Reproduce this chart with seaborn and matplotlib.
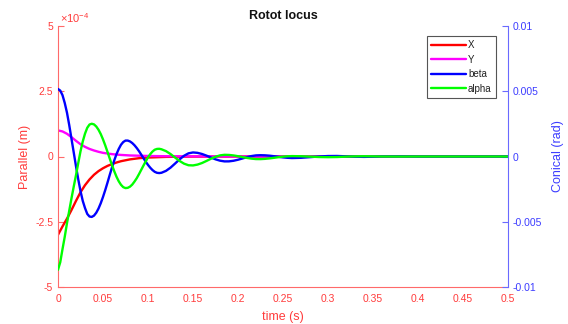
import numpy as np
import pandas as pd
import matplotlib
matplotlib.use("Agg")
import matplotlib.pyplot as plt
import seaborn as sns
from matplotlib.lines import Line2D

# ---------------- data ----------------
# Parallel displacements, in units of 1e-4 m
t_x = [0, 0.005, 0.010, 0.015, 0.020, 0.025, 0.030, 0.035, 0.040, 0.045,
       0.050, 0.055, 0.060, 0.065, 0.070, 0.080, 0.090, 0.100, 0.120, 0.150,
       0.200, 0.300, 0.400, 0.500]
x_par = [-3.00, -2.68, -2.38, -2.05, -1.70, -1.37, -1.10, -0.88, -0.70, -0.56,
         -0.45, -0.36, -0.29, -0.23, -0.18, -0.11, -0.065, -0.04, -0.015, -0.004,
         0.0, 0.0, 0.0, 0.0]

t_y = [0, 0.005, 0.010, 0.015, 0.020, 0.025, 0.030, 0.035, 0.040, 0.045,
       0.050, 0.060, 0.070, 0.080, 0.090, 0.100, 0.120, 0.150, 0.200, 0.300,
       0.400, 0.500]
y_par = [1.00, 0.96, 0.87, 0.74, 0.60, 0.47, 0.37, 0.29, 0.23, 0.18,
         0.14, 0.09, 0.06, 0.04, 0.03, 0.02, 0.01, 0.005, 0.0, 0.0,
         0.0, 0.0]

# Conical rotations, in units of 1e-3 rad
# sample times: every 2.5 ms up to 0.115 s, every 5 ms up to 0.26 s, then sparse
t_con = [0, 0.0025, 0.005, 0.0075, 0.010, 0.0125, 0.015, 0.0175, 0.020, 0.0225,
         0.025, 0.0275, 0.030, 0.0325, 0.035, 0.0375, 0.040, 0.0425, 0.045, 0.0475,
         0.050, 0.0525, 0.055, 0.0575, 0.060, 0.0625, 0.065, 0.0675, 0.070, 0.0725,
         0.075, 0.0775, 0.080, 0.0825, 0.085, 0.0875, 0.090, 0.0925, 0.095, 0.0975,
         0.100, 0.1025, 0.105, 0.1075, 0.110, 0.1125, 0.115,
         0.120, 0.125, 0.130, 0.135, 0.140, 0.145, 0.150, 0.155, 0.160, 0.165,
         0.170, 0.175, 0.180, 0.185, 0.190, 0.195, 0.200, 0.205, 0.210, 0.215,
         0.220, 0.225, 0.230, 0.235, 0.240, 0.245, 0.250, 0.255, 0.260,
         0.270, 0.280, 0.290, 0.300, 0.310, 0.320, 0.330, 0.340, 0.350, 0.360,
         0.380, 0.400, 0.450, 0.500]
beta = [5.17, 5.05, 4.70, 4.10, 3.35, 2.40, 1.35, 0.30, -0.75, -1.75,
        -2.65, -3.40, -3.95, -4.40, -4.60, -4.63, -4.53, -4.31, -3.99, -3.58,
        -3.10, -2.57, -2.00, -1.41, -0.84, -0.30, 0.18, 0.58, 0.90, 1.11,
        1.22, 1.22, 1.155, 1.03, 0.86, 0.65, 0.41, 0.14, -0.13, -0.40,
        -0.645, -0.86, -1.04, -1.175, -1.25, -1.27, -1.246,
        -1.10, -0.856, -0.545, -0.224, 0.055, 0.243, 0.31, 0.28, 0.193, 0.066,
        -0.078, -0.216, -0.32, -0.375, -0.372, -0.327, -0.248, -0.15, -0.05, 0.033,
        0.086, 0.10, 0.09, 0.063, 0.022, -0.024, -0.068, -0.10, -0.118,
        -0.10, -0.05, 0.0, 0.035, 0.04, 0.015, -0.015, -0.03, -0.015, 0.005,
        0.01, 0.0, 0.0, 0.0]
alpha = [-8.68, -8.10, -7.10, -6.15, -5.10, -4.15, -3.20, -2.30, -1.43, -0.50,
         0.40, 1.15, 1.75, 2.20, 2.45, 2.51, 2.46, 2.30, 2.05, 1.72,
         1.31, 0.85, 0.35, -0.16, -0.66, -1.13, -1.55, -1.90, -2.17, -2.35,
         -2.42, -2.40, -2.31, -2.15, -1.92, -1.66, -1.35, -1.02, -0.69, -0.37,
         -0.07, 0.18, 0.38, 0.52, 0.58, 0.59, 0.553,
         0.412, 0.19, -0.077, -0.338, -0.547, -0.67, -0.684, -0.62, -0.50, -0.34,
         -0.17, -0.02, 0.086, 0.13, 0.119, 0.081, 0.023, -0.045, -0.11, -0.164,
         -0.197, -0.20, -0.18, -0.145, -0.10, -0.053, -0.01, 0.018, 0.03,
         0.02, -0.01, -0.04, -0.05, -0.04, -0.01, 0.01, 0.02, 0.01, 0.0,
         -0.005, 0.0, 0.0, 0.0]

x_ticks = [0, 0.05, 0.1, 0.15, 0.2, 0.25, 0.3, 0.35, 0.4, 0.45, 0.5]
x_tick_labels = ["0", "0.05", "0.1", "0.15", "0.2", "0.25", "0.3", "0.35", "0.4", "0.45", "0.5"]
left_ticks = [-5, -2.5, 0, 2.5, 5]
left_tick_labels = ["-5", "-2.5", "0", "2.5", "5"]
right_ticks = [-0.01, -0.005, 0, 0.005, 0.01]
right_tick_labels = ["-0.01", "-0.005", "0", "0.005", "0.01"]

series_names = ["X", "Y", "beta", "alpha"]
colors = {"X": "#ff0000", "Y": "#ff00ff", "beta": "#0000ff", "alpha": "#00ff00"}

# ---------------- styling ----------------
sns.set_style("white")
plt.rcParams["font.family"] = ["Liberation Sans", "DejaVu Sans"]
plt.rcParams["mathtext.fontset"] = "custom"
plt.rcParams["mathtext.rm"] = "Liberation Sans"
plt.rcParams["mathtext.it"] = "Liberation Sans:italic"
plt.rcParams["mathtext.bf"] = "Liberation Sans:bold"

red_txt = "#ff3c3c"
red_ax = "#ff6a6a"
blue_txt = "#3c3cff"
blue_ax = "#6a6aff"

W, H = 568, 324
fig = plt.figure(figsize=(W / 100, H / 100), dpi=100)
ax1 = fig.add_axes([58 / W, 1 - 287 / H, 450 / W, 261 / H])
ax2 = ax1.twinx()

df_par = pd.concat([
    pd.DataFrame({"t": t_x, "val": x_par, "series": "X"}),
    pd.DataFrame({"t": t_y, "val": y_par, "series": "Y"}),
], ignore_index=True)
df_con = pd.concat([
    pd.DataFrame({"t": t_con, "val": np.array(beta) * 1e-3, "series": "beta"}),
    pd.DataFrame({"t": t_con, "val": np.array(alpha) * 1e-3, "series": "alpha"}),
], ignore_index=True)

lw = 1.7
sns.lineplot(data=df_par, x="t", y="val", hue="series", hue_order=["X", "Y"],
             palette=colors, estimator=None, ax=ax1, legend=False, lw=lw)
sns.lineplot(data=df_con, x="t", y="val", hue="series", hue_order=["beta", "alpha"],
             palette=colors, estimator=None, ax=ax2, legend=False, lw=lw)
for a in (ax1, ax2):
    for ln in a.get_lines():
        ln.set_solid_joinstyle("round")

ax1.set_xlim(0, 0.5)
ax1.set_ylim(-5, 5)
ax2.set_ylim(-0.01, 0.01)

ax1.set_xticks(x_ticks)
ax1.set_xticklabels(x_tick_labels)
ax1.set_yticks(left_ticks)
ax1.set_yticklabels(left_tick_labels)
ax2.set_yticks(right_ticks)
ax2.set_yticklabels(right_tick_labels)

fs = 7.5
ax1.tick_params(axis="both", direction="in", length=4, width=0.8, colors=red_ax,
                labelcolor=red_txt, labelsize=fs)
ax1.tick_params(axis="x", pad=5)
ax1.tick_params(axis="y", pad=3.5)
ax2.tick_params(axis="y", direction="in", length=4, width=0.8, colors=blue_ax,
                labelcolor=blue_txt, labelsize=fs, pad=3)

for a in (ax1, ax2):
    a.spines["top"].set_visible(False)
    a.set_xlabel("")
    a.set_ylabel("")
ax1.spines["right"].set_visible(False)
ax1.spines["left"].set_color(red_ax)
ax1.spines["bottom"].set_color(red_ax)
ax2.spines["left"].set_visible(False)
ax2.spines["bottom"].set_visible(False)
ax2.spines["right"].set_color(blue_ax)
for sp in ("left", "bottom"):
    ax1.spines[sp].set_linewidth(0.8)
ax2.spines["right"].set_linewidth(0.8)

ax1.set_xlabel("time (s)", color=red_txt, fontsize=9)
ax1.xaxis.set_label_coords(0.5, (287 - 311) / 261)
ax1.set_ylabel("Parallel (m)", color=red_txt, fontsize=9)
ax1.yaxis.set_label_coords((31 - 58) / 450, 0.5)
ax2.set_ylabel("Conical (rad)", color=blue_txt, fontsize=9)
ax2.yaxis.set_label_coords((552 - 58) / 450, 0.5)

ax1.set_title("Rotot locus", fontsize=9, fontweight="bold", color="#111111", pad=5)

ax1.text((60 - 58) / 450, (287 - 23) / 261, "×10$^{-4}$", transform=ax1.transAxes,
         color=red_txt, fontsize=8, ha="left", va="baseline")

handles = [Line2D([0], [0], color=colors[s], lw=lw) for s in series_names]
leg = fig.legend(handles, series_names, loc="upper right",
                 bbox_to_anchor=(496 / W, 1 - 36 / H), borderaxespad=0,
                 fontsize=7, frameon=True, fancybox=False, edgecolor="#555555",
                 handlelength=3.6, handletextpad=0.2, labelspacing=0.45,
                 borderpad=0.45, framealpha=1)
leg.get_frame().set_linewidth(0.8)
for txt in leg.get_texts():
    txt.set_color("#222222")

fig.savefig("out.png", dpi=100)
